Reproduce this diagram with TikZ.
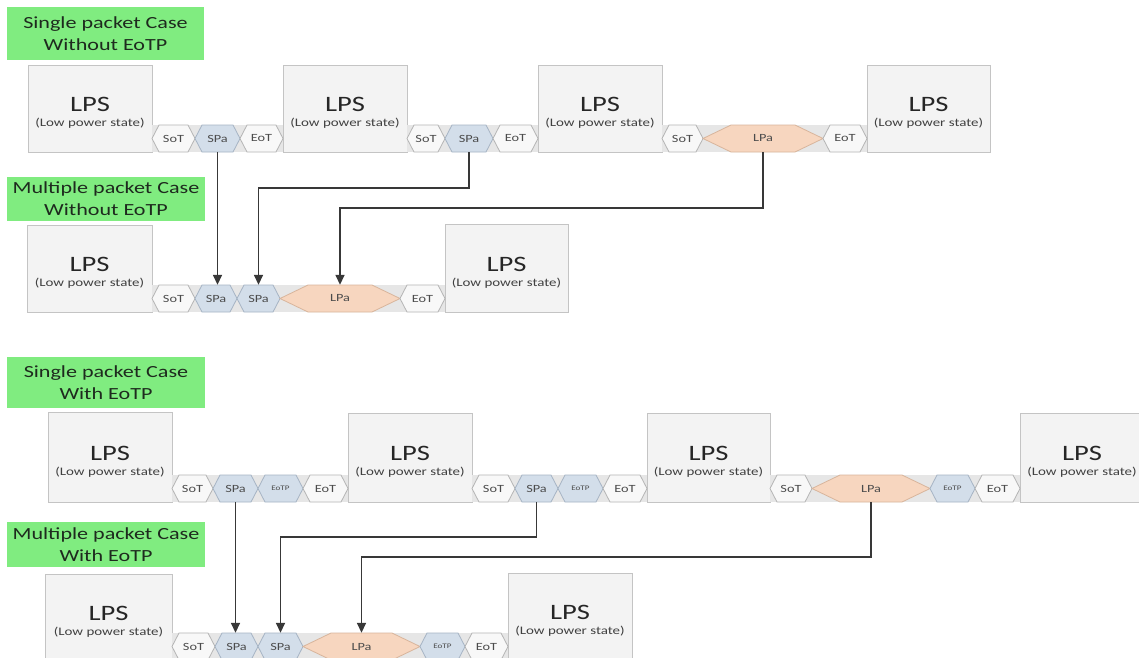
\documentclass[tikz,border=0pt]{standalone}
\usepackage{fontspec}
\setmainfont[FakeStretch=1.3]{Carlito}
\usetikzlibrary{arrows.meta}

\definecolor{tagfill}{HTML}{80EC80}
\definecolor{tagtext}{HTML}{1E2A1E}
\definecolor{lpsfill}{HTML}{F3F3F3}
\definecolor{lpsline}{HTML}{C4C4C4}
\definecolor{bandfill}{HTML}{E6E6E6}
\definecolor{whtfill}{HTML}{F8F8F8}
\definecolor{whtline}{HTML}{B4B4B4}
\definecolor{blufill}{HTML}{D3DEEA}
\definecolor{bluline}{HTML}{A6B4C4}
\definecolor{orgfill}{HTML}{F7D6BF}
\definecolor{orgline}{HTML}{D8B59C}
\definecolor{connline}{HTML}{383838}

\tikzset{
  tag/.style={fill=tagfill, text=tagtext, inner sep=0pt, align=center,
    font=\fontsize{17}{22}\selectfont},
  lpsbox/.style={draw=lpsline, fill=lpsfill, line width=0.9pt, inner sep=0pt},
  lpsmain/.style={inner sep=0pt, text=black!85, font=\fontsize{22}{22}\selectfont},
  lpssub/.style={inner sep=0pt, text=black!75, font=\fontsize{11.5}{12}\selectfont},
  wht/.style={fill=whtfill, draw=whtline, line width=0.8pt},
  blu/.style={fill=blufill, draw=bluline, line width=0.8pt},
  org/.style={fill=orgfill, draw=orgline, line width=0.8pt},
  hexlabel/.style={inner sep=0pt, minimum height=27pt,
    font=\fontsize{11}{12}\selectfont, text=black!70},
  conn/.style={draw=connline, line width=1.5pt,
    -{Triangle[width=9pt,length=10pt]}},
}

% low power state box: name, x1, y1, x2, y2
\newcommand\lpscell[5]{%
  \node[lpsbox, minimum width={#4-#2}, minimum height={#5-#3}]
    (#1) at ({(#2+#4)/2},{(#3+#5)/2}) {};
  \node[lpsmain] (#1t) at ([yshift=4pt]#1.center) {LPS};
  \node[lpssub] (#1s) at ([yshift=-15pt]#1.center) {(Low power state)};}

% hexagon: name, x1, x2, y centre, point depth, style, text
\newcommand\hexcell[7]{%
  \path[#6] (#2,#4) -- (#2+#5,#4-13.5) -- (#3-#5,#4-13.5) -- (#3,#4)
    -- (#3-#5,#4+13.5) -- (#2+#5,#4+13.5) -- cycle;
  \node[hexlabel, minimum width={#3-#2}] (#1) at ({(#2+#3)/2},#4) {#7};}

% grey strip behind a row of hexagons: x1, x2, y centre
\newcommand\bandrow[3]{\fill[bandfill] (#1,#3-13.5) rectangle (#2,#3+13.5);}

\newcommand\eotp{{\fontsize{7}{8}\selectfont EoTP}}

\begin{document}
\begin{tikzpicture}[x=1pt, y=-1pt]
\useasboundingbox (0,0) rectangle (1139,657);
\fill[white] (0,0) rectangle (1139,657);

% case labels
\node[tag, minimum width=197, minimum height=53] (g1) at (105.5,33.5) {Single packet Case\\Without EoTP};
\node[tag, minimum width=198, minimum height=44] (g2) at (106,199) {Multiple packet Case\\Without EoTP};
\node[tag, minimum width=198, minimum height=51] (g3) at (106,382.5) {Single packet Case\\With EoTP};
\node[tag, minimum width=198, minimum height=45] (g4) at (106,544.5) {Multiple packet Case\\With EoTP};

% ---- single packet, without EoTP
\lpscell{a1}{28}{65}{152}{152}
\lpscell{a2}{283}{65}{407}{152}
\lpscell{a3}{538}{65}{662}{152}
\lpscell{a4}{867}{65}{990}{152}
\bandrow{152}{283}{138.5}
\bandrow{407}{538}{138.5}
\bandrow{662}{867}{138.5}
\hexcell{a1sot}{152}{195}{138.5}{7}{wht}{SoT}
\hexcell{a1spa}{195}{240}{138.5}{7}{blu}{SPa}
\hexcell{a1eot}{240}{283}{138.5}{7}{wht}{EoT}
\hexcell{a2sot}{407}{445}{138.5}{7}{wht}{SoT}
\hexcell{a2spa}{445}{493}{138.5}{7}{blu}{SPa}
\hexcell{a2eot}{493}{538}{138.5}{7}{wht}{EoT}
\hexcell{a3sot}{662}{703}{138.5}{7}{wht}{SoT}
\hexcell{a3lpa}{703}{823}{138.5}{28}{org}{LPa}
\hexcell{a3eot}{823}{867}{138.5}{7}{wht}{EoT}

% ---- multiple packets, without EoTP
\lpscell{b1}{27}{225}{152}{312}
\lpscell{b2}{445}{224}{568}{312}
\bandrow{152}{445}{298.5}
\hexcell{b1sot}{152}{195}{298.5}{7}{wht}{SoT}
\hexcell{b1spa}{195}{237}{298.5}{7}{blu}{SPa}
\hexcell{b1spb}{237}{280}{298.5}{7}{blu}{SPa}
\hexcell{b1lpa}{280}{400}{298.5}{28}{org}{LPa}
\hexcell{b1eot}{400}{445}{298.5}{7}{wht}{EoT}

% ---- single packet, with EoTP
\lpscell{c1}{48}{412}{172}{502}
\lpscell{c2}{348}{413}{472}{502}
\lpscell{c3}{647}{413}{770}{502}
\lpscell{c4}{1020}{413}{1144}{502}
\bandrow{172}{348}{488.5}
\bandrow{472}{647}{488.5}
\bandrow{770}{1020}{488.5}
\hexcell{c1sot}{172}{213}{488.5}{7}{wht}{SoT}
\hexcell{c1spa}{213}{258}{488.5}{7}{blu}{SPa}
\hexcell{c1eotp}{258}{303}{488.5}{7}{blu}{\eotp}
\hexcell{c1eot}{303}{348}{488.5}{7}{wht}{EoT}
\hexcell{c2sot}{472}{515}{488.5}{7}{wht}{SoT}
\hexcell{c2spa}{515}{558}{488.5}{7}{blu}{SPa}
\hexcell{c2eotp}{558}{603}{488.5}{7}{blu}{\eotp}
\hexcell{c2eot}{603}{647}{488.5}{7}{wht}{EoT}
\hexcell{c3sot}{770}{812}{488.5}{7}{wht}{SoT}
\hexcell{c3lpa}{812}{930}{488.5}{28}{org}{LPa}
\hexcell{c3eotp}{930}{975}{488.5}{7}{blu}{\eotp}
\hexcell{c3eot}{975}{1020}{488.5}{7}{wht}{EoT}

% ---- multiple packets, with EoTP
\lpscell{d1}{45}{574}{172}{660}
\lpscell{d2}{508}{573}{632}{660}
\bandrow{172}{508}{646.5}
\hexcell{d1sot}{172}{215}{646.5}{7}{wht}{SoT}
\hexcell{d1spa}{215}{258}{646.5}{7}{blu}{SPa}
\hexcell{d1spb}{258}{303}{646.5}{7}{blu}{SPa}
\hexcell{d1lpa}{303}{420}{646.5}{28}{org}{LPa}
\hexcell{d1eotp}{420}{465}{646.5}{7}{blu}{\eotp}
\hexcell{d1eot}{465}{508}{646.5}{7}{wht}{EoT}

% packets gathered into one burst
\draw[conn] (a1spa.south) -- (a1spa.south |- b1spa.north);
\draw[conn] (a2spa.south) -- ++(0,36) -| (b1spb.north);
\draw[conn] (a3lpa.south) -- ++(0,56) -| (b1lpa.north);
\draw[conn] (c1spa.south) -- (c1spa.south |- d1spa.north);
\draw[conn] (c2spa.south) -- ++(0,35) -| (d1spb.north);
\draw[conn] (c3lpa.south) -- ++(0,55) -| (d1lpa.north);
\end{tikzpicture}
\end{document}
